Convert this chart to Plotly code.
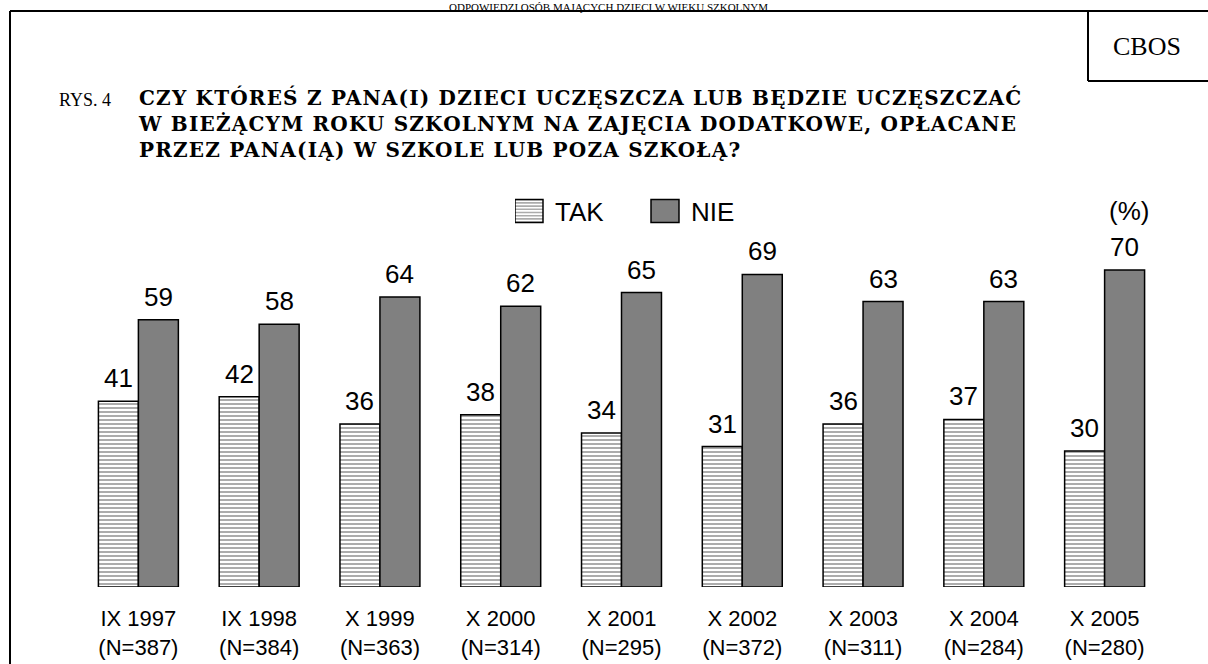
import plotly.graph_objects as go

categories = ["IX 1997<br>(N=387)", "IX 1998<br>(N=384)", "X 1999<br>(N=363)",
              "X 2000<br>(N=314)", "X 2001<br>(N=295)", "X 2002<br>(N=372)",
              "X 2003<br>(N=311)", "X 2004<br>(N=284)", "X 2005<br>(N=280)"]
tak = [41, 42, 36, 38, 34, 31, 36, 37, 30]
nie = [59, 58, 64, 62, 65, 69, 63, 63, 70]

W, H = 1208, 664
L, R, T, B = 78, 43, 134, 77
PW = W - L - R
PH = H - T - B

def px(x):
    return (x - L) / PW

def py(y):
    return (H - B - y) / PH

SANS = "Liberation Sans, Arial, sans-serif"
SERIF = "Liberation Serif, Times New Roman, serif"
WIDESERIF = "DejaVu Serif, serif"

fig = go.Figure()
fig.add_trace(go.Bar(
    name="TAK", x=categories, y=tak,
    marker=dict(color="white", line=dict(color="black", width=1.5),
                pattern=dict(shape="-", fgcolor="#111111", bgcolor="white",
                             size=4, solidity=0.35)),
))
fig.add_trace(go.Bar(
    name="NIE", x=categories, y=nie,
    marker=dict(color="#808080", line=dict(color="black", width=1.5)),
))

annotations = []
for c, v in zip(categories, tak):
    annotations.append(dict(x=c, y=v, xref="x", yref="y", text=str(v),
                            showarrow=False, yanchor="bottom", xshift=-20, yshift=6,
                            font=dict(family=SANS, size=26, color="black")))
for c, v in zip(categories, nie):
    annotations.append(dict(x=c, y=v, xref="x", yref="y", text=str(v),
                            showarrow=False, yanchor="bottom", xshift=20, yshift=6,
                            font=dict(family=SANS, size=26, color="black")))

# headings
annotations.append(dict(x=px(608), y=py(-1), xref="paper", yref="paper",
                        text="ODPOWIEDZI OSÓB MAJĄCYCH DZIECI W WIEKU SZKOLNYM",
                        showarrow=False, xanchor="center", yanchor="top",
                        font=dict(family=SERIF, size=11, color="black")))
annotations.append(dict(x=px(1147), y=py(47), xref="paper", yref="paper",
                        text="CBOS", showarrow=False, xanchor="center", yanchor="middle",
                        font=dict(family=SERIF, size=26, color="black")))
annotations.append(dict(x=px(57), y=py(100), xref="paper", yref="paper",
                        text="RYS. 4", showarrow=False, xanchor="left", yanchor="middle",
                        font=dict(family=SERIF, size=18, color="black")))
title_lines = ["CZY KTÓREŚ Z PANA(I) DZIECI UCZĘSZCZA LUB BĘDZIE UCZĘSZCZAĆ",
               "W BIEŻĄCYM ROKU SZKOLNYM NA ZAJĘCIA DODATKOWE, OPŁACANE",
               "PRZEZ PANA(IĄ) W SZKOLE LUB POZA SZKOŁĄ?"]
annotations.append(dict(x=px(136), y=py(123), xref="paper", yref="paper",
                        text="<br>".join("<b>" + s + "</b>" for s in title_lines),
                        showarrow=False, xanchor="left", yanchor="middle", align="left",
                        font=dict(family=WIDESERIF, size=20, color="black")))
annotations.append(dict(x=px(1129), y=py(211), xref="paper", yref="paper",
                        text="(%)", showarrow=False, xanchor="center", yanchor="middle",
                        font=dict(family=SANS, size=26, color="black")))

shapes = [
    dict(type="line", xref="paper", yref="paper", x0=px(10), x1=px(1210),
         y0=py(11), y1=py(11), line=dict(color="black", width=2)),
    dict(type="line", xref="paper", yref="paper", x0=px(10), x1=px(10),
         y0=py(11), y1=py(666), line=dict(color="black", width=2)),
    dict(type="line", xref="paper", yref="paper", x0=px(1088), x1=px(1088),
         y0=py(11), y1=py(81), line=dict(color="black", width=2)),
    dict(type="line", xref="paper", yref="paper", x0=px(1088), x1=px(1210),
         y0=py(81), y1=py(81), line=dict(color="black", width=2)),
]

fig.update_layout(
    width=W, height=H,
    margin=dict(l=L, r=R, t=T, b=B, pad=0, autoexpand=False),
    paper_bgcolor="white", plot_bgcolor="white",
    barmode="group", bargap=0.338, bargroupgap=0,
    showlegend=True,
    legend=dict(orientation="h", x=px(515), y=py(211), xanchor="left", yanchor="middle",
                font=dict(family=SANS, size=26, color="black"),
                entrywidth=91, traceorder="normal", bgcolor="rgba(0,0,0,0)",
                borderwidth=0),
    xaxis=dict(showline=False, showgrid=False, zeroline=False, ticks="",
               tickfont=dict(family=SANS, size=22, color="black"),
               ticklabelstandoff=16, range=[-0.5, 8.5], automargin=False),
    yaxis=dict(range=[0, 100], visible=False, automargin=False),
    annotations=annotations, shapes=shapes,
)

post = """
document.body.style.margin='0';
document.body.style.overflow='hidden';
document.querySelectorAll('.legend .legendpoints path').forEach(function(p){
    p.setAttribute('d','M8,11.5H-20V-11.5H8Z');
});
document.querySelectorAll('text.annotation-text').forEach(function(t){
    if (t.textContent.indexOf('CZY KT') === 0) { t.style.letterSpacing = '1.2px'; }
});
"""

fig.write_html("out.html", config={"displayModeBar": False}, post_script=post)
